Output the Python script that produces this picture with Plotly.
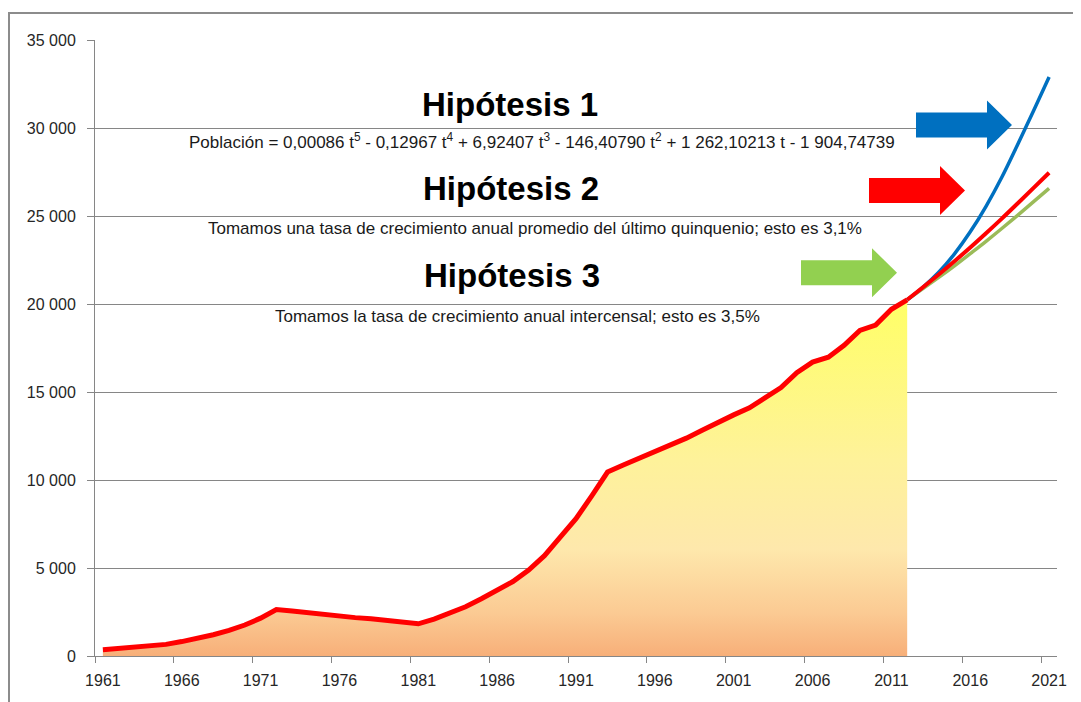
import plotly.graph_objects as go

# ---------------- data ----------------
years_hist = list(range(1961, 2013))
pop_hist = [350, 410, 470, 540, 660, 820, 1000, 1210, 1450, 1760,
            2150, 2640, 2560, 2450, 2380, 2270, 2180, 2120, 2020, 1900,
            1830, 2100, 2450, 2800, 3250, 3720, 4230, 4880, 5700, 6750,
            7800, 9100, 10450, 10850, 11230, 11600, 11980, 12380, 12830, 13300,
            13700, 14100, 14650, 15250, 16100, 16700, 16980, 17650, 18500, 18800,
            19700, 20240]

years_proj = list(range(2012, 2022))
proj_blue = [20240, 20950, 21800, 22850, 24100, 25550, 27200, 29050, 30950, 32900]
proj_red = [20240, 20950, 21680, 22430, 23210, 24020, 24850, 25710, 26580, 27460]
proj_green = [20240, 20870, 21510, 22170, 22860, 23560, 24290, 25040, 25800, 26570]

x_tick_years = list(range(1961, 2022, 5))
x_tick_labels = [str(y) for y in x_tick_years]
y_tick_values = [0, 5000, 10000, 15000, 20000, 25000, 30000, 35000]
y_tick_labels = ["0", "5 000", "10 000", "15 000", "20 000", "25 000", "30 000", "35 000"]

titles = ["Hipótesis 1", "Hipótesis 2", "Hipótesis 3"]
subtitles = [
    "Población = 0,00086 t<sup>5</sup> - 0,12967 t<sup>4</sup> + 6,92407 t<sup>3</sup> - 146,40790 t<sup>2</sup> + 1 262,10213 t - 1 904,74739",
    "Tomamos una tasa de crecimiento anual promedio del último quinquenio; esto es 3,1%",
    "Tomamos la tasa de crecimiento anual intercensal; esto es 3,5%",
]

# ---------------- geometry ----------------
# page body adds an 8px offset; figure coordinates are screen minus 8
OFF = 8
W, H = 1081 - OFF, 702 - OFF
PX0, PX1, PY0, PY1 = 95, 1057, 40, 656          # plot area on screen
L, T = PX0 - OFF, PY0 - OFF
R, B = W - (PX1 - OFF), H - (PY1 - OFF)
PW, PH = PX1 - PX0, PY1 - PY0


def px(x):
    return (x - PX0) / PW


def py(y):
    return (PY1 - y) / PH


FONT = "Liberation Sans, Arial, sans-serif"
GRID = "#868686"

fig = go.Figure()

fig.add_trace(go.Scatter(
    x=years_hist, y=pop_hist, mode="lines",
    line=dict(color="#FF0000", width=5),
    fill="tozeroy",
    fillgradient=dict(type="vertical",
                      colorscale=[[0, "#F7AF79"], [0.12, "#FBCA93"], [0.3, "#FEE8AC"],
                                  [0.55, "#FEF29A"], [1, "#FFFF66"]],
                      start=0, stop=max(pop_hist)),
    hoverinfo="skip", showlegend=False))

fig.add_trace(go.Scatter(x=years_proj, y=proj_green, mode="lines", line=dict(color="#9BBB59", width=3.5, shape="spline"), showlegend=False))
fig.add_trace(go.Scatter(x=years_proj, y=proj_blue, mode="lines", line=dict(color="#0070C0", width=3.5, shape="spline"), showlegend=False))
fig.add_trace(go.Scatter(x=years_proj, y=proj_red, mode="lines", line=dict(color="#FF0000", width=4, shape="spline"), showlegend=False))

# ---------------- annotations ----------------
title_pos = [(510, 104), (511, 188), (512, 275)]
sub_pos = [(542, 141), (535, 228), (517, 316)]
ann = []
for t, (x, y) in zip(titles, title_pos):
    ann.append(dict(text=t, x=px(x), y=py(y), xref="paper", yref="paper", showarrow=False,
                    xanchor="center", yanchor="middle",
                    font=dict(family=FONT, size=33, color="#000000", weight="bold")))
for s, (x, y) in zip(subtitles, sub_pos):
    ann.append(dict(text=s, x=px(x), y=py(y), xref="paper", yref="paper", showarrow=False,
                    xanchor="center", yanchor="middle",
                    font=dict(family=FONT, size=17, color="#1a1a1a")))

# ---------------- arrows (decoration) ----------------
arrows = [("#0070C0", 916, 125), ("#FF0000", 869, 190.5), ("#92D050", 801, 272.7)]
shapes = []
for col, x0, yc in arrows:
    body_len, head_len, bh, hh = 71, 25, 12.5, 24.5
    pts = [(x0, yc - bh), (x0 + body_len, yc - bh), (x0 + body_len, yc - hh),
           (x0 + body_len + head_len, yc), (x0 + body_len, yc + hh),
           (x0 + body_len, yc + bh), (x0, yc + bh)]
    path = "M " + " L ".join(f"{px(a):.5f},{py(b):.5f}" for a, b in pts) + " Z"
    shapes.append(dict(type="path", path=path, xref="paper", yref="paper",
                       fillcolor=col, line=dict(width=0), layer="above"))

# outer frame
shapes.append(dict(type="rect", xref="paper", yref="paper",
                   x0=px(9), x1=px(1095), y0=py(720), y1=py(13),
                   line=dict(color="#8C8C8C", width=2), fillcolor="rgba(0,0,0,0)", layer="above"))

fig.update_layout(
    width=W, height=H,
    margin=dict(l=L, r=R, t=T, b=B, pad=0),
    paper_bgcolor="white", plot_bgcolor="white",
    font=dict(family=FONT, size=16, color="#262626"),
    showlegend=False,
    annotations=ann, shapes=shapes,
    xaxis=dict(range=[1960.5, 2021.5], tickmode="array", tickvals=x_tick_years, ticktext=x_tick_labels,
               ticks="", showgrid=False, zeroline=False, showline=True, linecolor=GRID, linewidth=1,
               ticklabelstandoff=10,
               minor=dict(tickmode="array", tickvals=[y - 0.5 for y in x_tick_years], ticks="outside",
                          ticklen=6, tickwidth=1, tickcolor=GRID, showgrid=False),
               tickfont=dict(family=FONT, size=16, color="#262626")),
    yaxis=dict(range=[0, 35000], tickmode="array", tickvals=y_tick_values, ticktext=y_tick_labels,
               ticks="outside", ticklen=7, tickwidth=1, tickcolor=GRID,
               showgrid=True, gridcolor=GRID, gridwidth=1, zeroline=False,
               showline=True, linecolor=GRID, linewidth=1, ticklabelstandoff=8,
               tickfont=dict(family=FONT, size=16, color="#262626")),
)

fig.write_html("out.html")
